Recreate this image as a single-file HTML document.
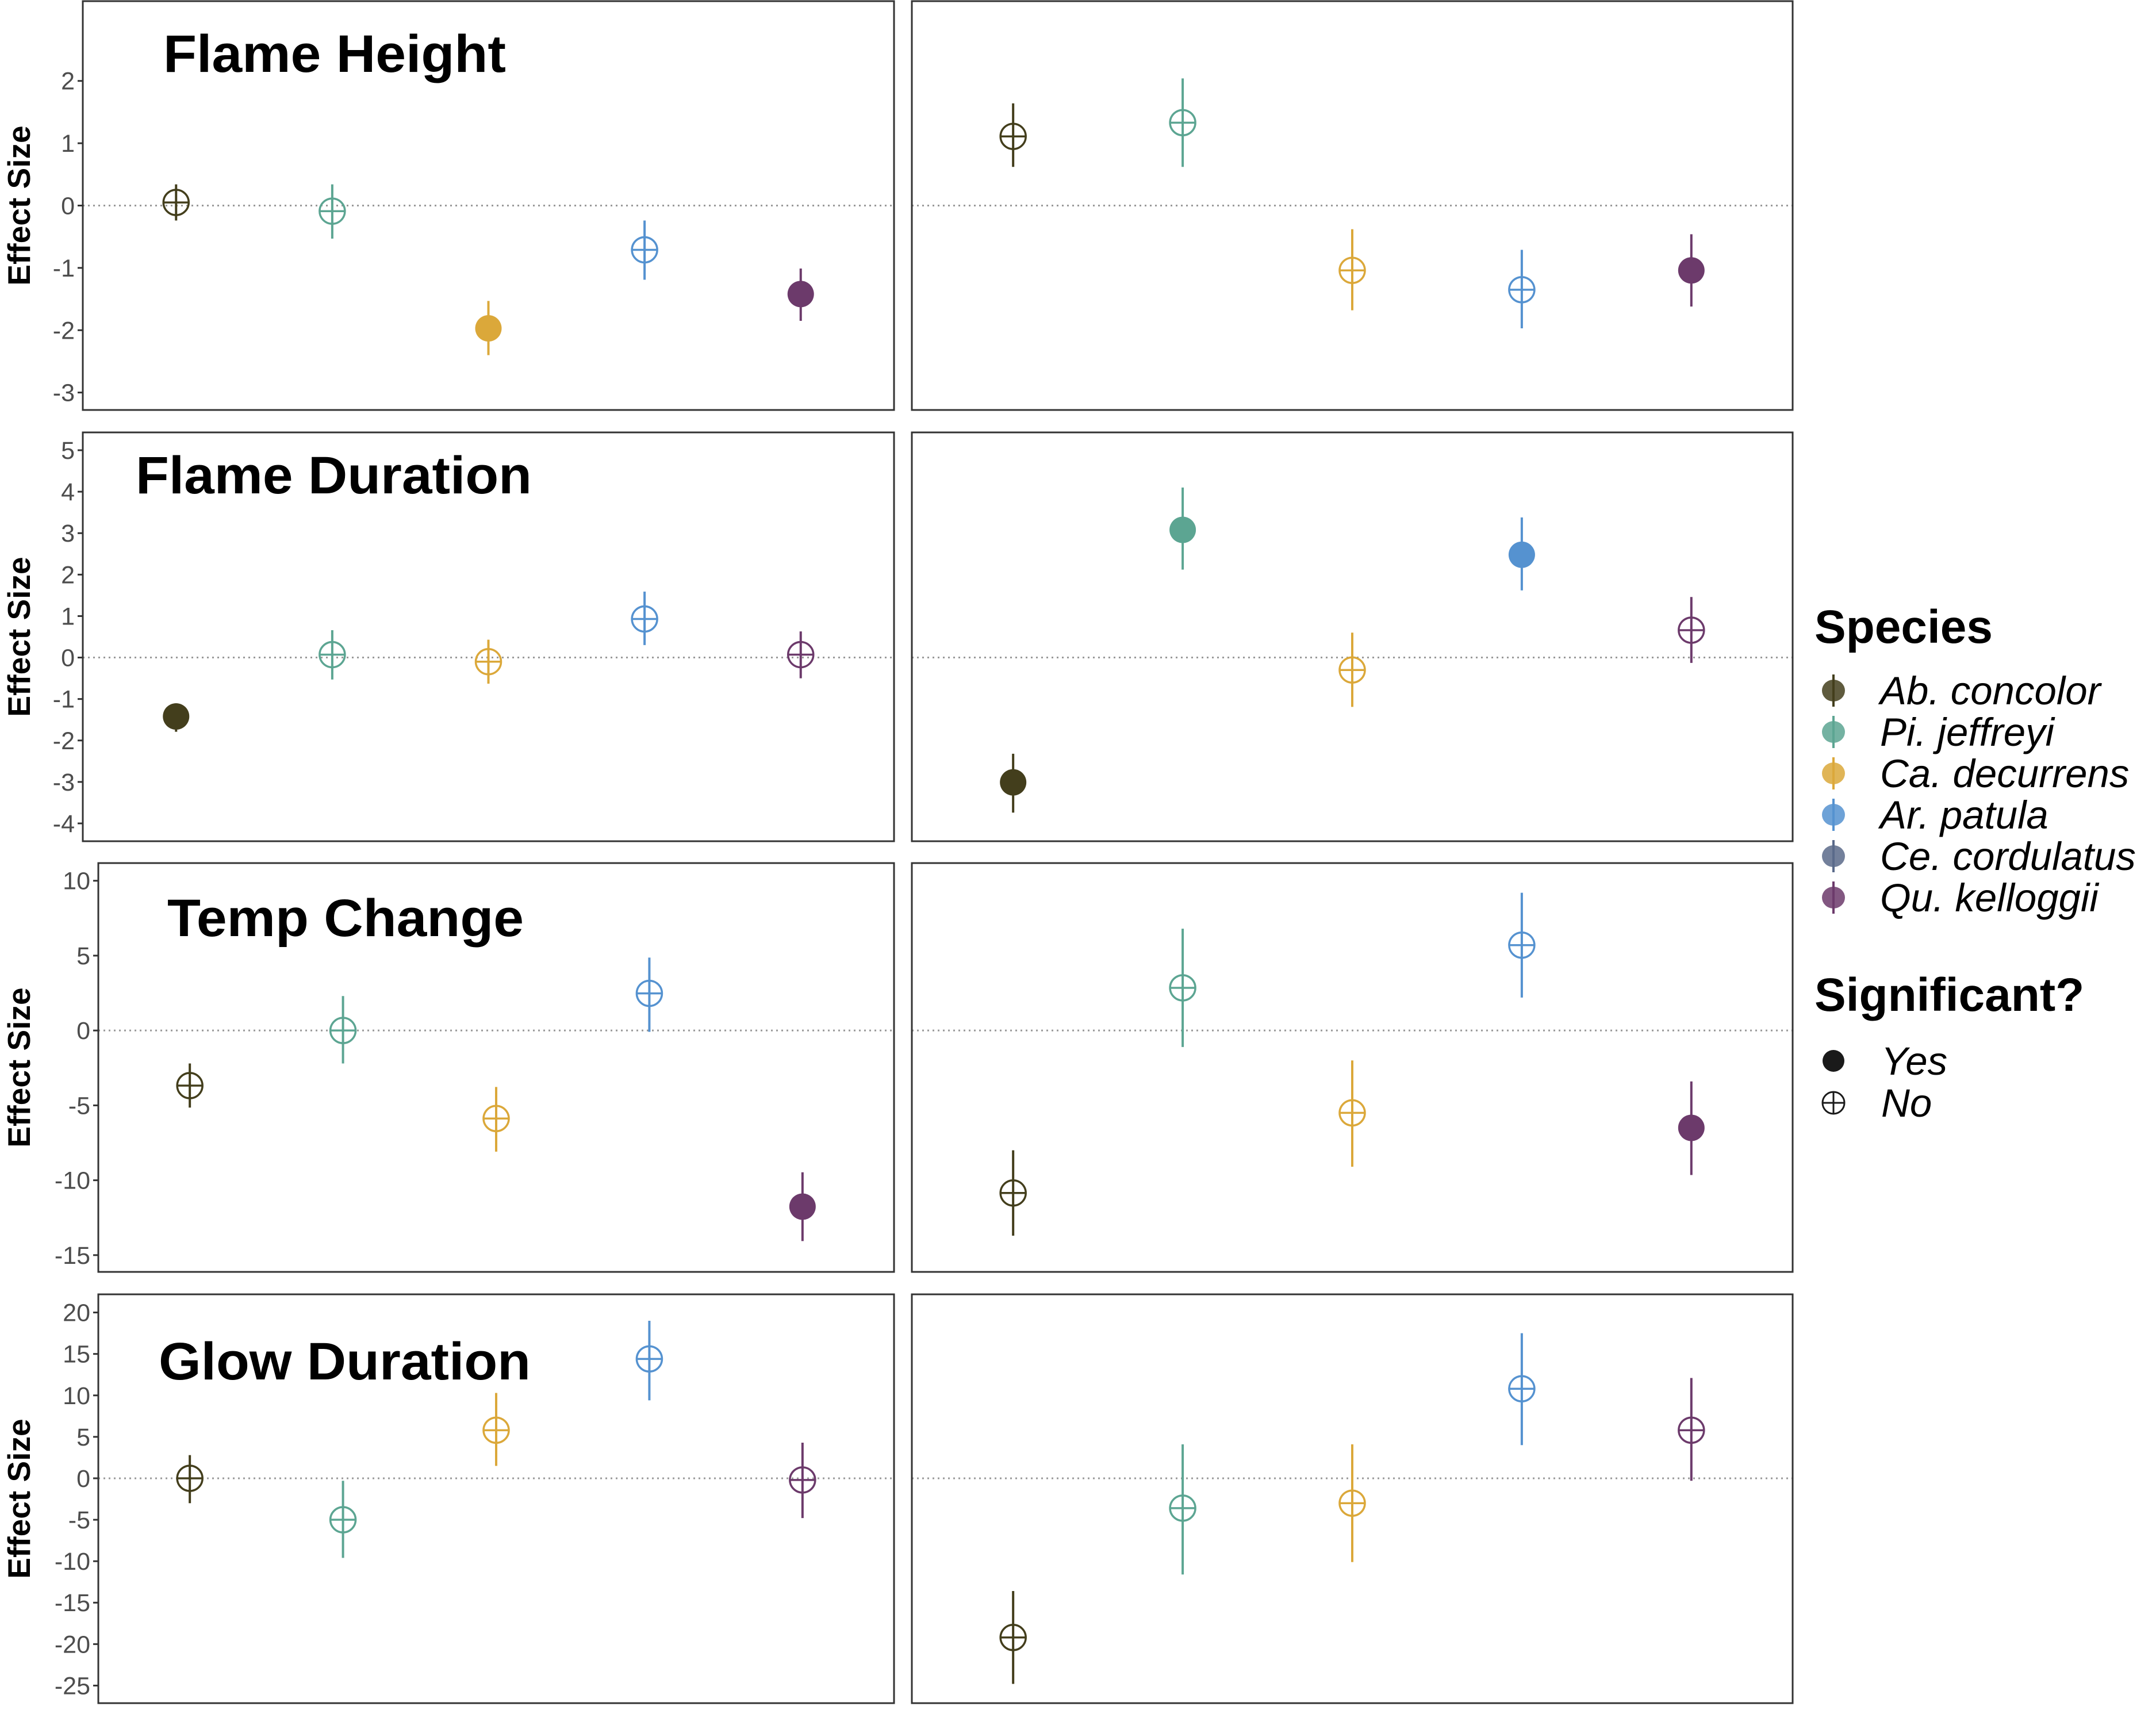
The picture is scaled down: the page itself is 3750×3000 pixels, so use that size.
<!DOCTYPE html>
<html><head><meta charset="utf-8"><style>
html,body{margin:0;padding:0;background:#fff;}
svg{display:block;}
text{font-family:"Liberation Sans",sans-serif;}
</style></head><body>
<svg id="chart" width="3750" height="3000" viewBox="0 0 3750 3000" xmlns="http://www.w3.org/2000/svg"></svg>
<script>
const species = ["Ab. concolor","Pi. jeffreyi","Ca. decurrens","Ar. patula","Ce. cordulatus","Qu. kelloggii"];
const plotted = ["Ab. concolor","Pi. jeffreyi","Ca. decurrens","Ar. patula","Qu. kelloggii"];
const colors = ["#433e1c","#5ca592","#dba83a","#5592d0","#5a6a8a","#6c3a6b"];
const metrics = ["Flame Height","Flame Duration","Temp Change","Glow Duration"];
const ticks1 = [2,1,0,-1,-2,-3];
const ticks2 = [5,4,3,2,1,0,-1,-2,-3,-4];
const ticks3 = [10,5,0,-5,-10,-15];
const ticks4 = [20,15,10,5,0,-5,-10,-15,-20,-25];
const domains = [[-3.28,3.28],[-4.43,5.43],[-16.12,11.18],[-27.12,22.19]];
// est, lo, hi, significant  (left panel, right panel)
const fhL_est=[0.05,-0.09,-1.97,-0.71,-1.42], fhL_lo=[-0.24,-0.53,-2.40,-1.19,-1.85], fhL_hi=[0.34,0.34,-1.53,-0.24,-1.01], fhL_sig=[0,0,1,0,1];
const fhR_est=[1.11,1.33,-1.04,-1.35,-1.04], fhR_lo=[0.62,0.62,-1.68,-1.97,-1.62], fhR_hi=[1.64,2.04,-0.38,-0.71,-0.46], fhR_sig=[0,0,0,0,1];
const fdL_est=[-1.42,0.07,-0.10,0.93,0.07], fdL_lo=[-1.79,-0.53,-0.63,0.30,-0.50], fdL_hi=[-1.19,0.66,0.43,1.59,0.63], fdL_sig=[1,0,0,0,0];
const fdR_est=[-3.01,3.08,-0.30,2.48,0.66], fdR_lo=[-3.74,2.12,-1.19,1.62,-0.13], fdR_hi=[-2.32,4.10,0.60,3.38,1.46], fdR_sig=[1,1,0,1,0];
const tcL_est=[-3.68,0.0,-5.88,2.48,-11.76], tcL_lo=[-5.15,-2.2,-8.09,-0.09,-14.06], tcL_hi=[-2.2,2.3,-3.77,4.87,-9.47], tcL_sig=[0,0,0,0,1];
const tcR_est=[-10.85,2.85,-5.5,5.7,-6.5], tcR_lo=[-13.7,-1.1,-9.1,2.2,-9.65], tcR_hi=[-8.0,6.8,-2.0,9.2,-3.4], tcR_sig=[0,0,0,0,1];
const gdL_est=[0.0,-5.0,5.8,14.4,-0.2], gdL_lo=[-3.0,-9.6,1.5,9.4,-4.8], gdL_hi=[2.8,-0.3,10.3,19.0,4.3], gdL_sig=[0,0,0,0,0];
const gdR_est=[-19.2,-3.6,-3.0,10.8,5.8], gdR_lo=[-24.8,-11.6,-10.1,4.0,-0.3], gdR_hi=[-13.6,4.1,4.1,17.5,12.1], gdR_sig=[0,0,0,0,0];

const NS="http://www.w3.org/2000/svg";
const svg=document.getElementById("chart");
function mk(tag,attrs,parent){const e=document.createElementNS(NS,tag);for(const k in attrs)e.setAttribute(k,attrs[k]);(parent||svg).appendChild(e);return e;}

const rowTops=[2,752,1501,2251], PH=711;
const leftX=[[144,1555],[144,1555],[171,1555],[171,1555]];
const rightX=[1586,3118];
const tickSets=[ticks1,ticks2,ticks3,ticks4];
const titleX=[284,236,291,276], titleBase=[125,858,1628,2399], titleW=[596,689,620,647];
const panels=[[[fhL_est,fhL_lo,fhL_hi,fhL_sig],[fhR_est,fhR_lo,fhR_hi,fhR_sig]],
 [[fdL_est,fdL_lo,fdL_hi,fdL_sig],[fdR_est,fdR_lo,fdR_hi,fdR_sig]],
 [[tcL_est,tcL_lo,tcL_hi,tcL_sig],[tcR_est,tcR_lo,tcR_hi,tcR_sig]],
 [[gdL_est,gdL_lo,gdL_hi,gdL_sig],[gdR_est,gdR_lo,gdR_hi,gdR_sig]]];

for(let r=0;r<4;r++){
  const top=rowTops[r], dom=domains[r];
  const y=v=>top+(dom[1]-v)/(dom[1]-dom[0])*PH;
  for(let p=0;p<2;p++){
    const [x0,x1]=p===0?leftX[r]:rightX;
    const xs=i=>x0+(x1-x0)*(0.115+i*0.1925);
    const g=mk("g",{});
    
    
    mk("line",{x1:x0,x2:x1,y1:y(0),y2:y(0),stroke:"#999",'stroke-width':3,'stroke-dasharray':"3 6"},g);
    const d=panels[r][p];
    for(let i=0;i<plotted.length;i++){
      const c=colors[species.indexOf(plotted[i])];
      const pt=mk("g",{},g);
      
      
      const cx=xs(i), cy=y(d[0][i]);
      mk("line",{x1:cx,x2:cx,y1:y(d[1][i]),y2:y(d[2][i]),stroke:c,'stroke-width':4},pt);
      if(d[3][i]){
        mk("circle",{cx:cx,cy:cy,r:23,fill:c},pt);
      } else {
        mk("circle",{cx:cx,cy:cy,r:22,fill:"none",stroke:c,'stroke-width':3.5},pt);
        mk("line",{x1:cx-22,x2:cx+22,y1:cy,y2:cy,stroke:c,'stroke-width':3.5},pt);
      }
    }
    mk("rect",{x:x0,y:top,width:x1-x0,height:PH,fill:"none",stroke:"#333",'stroke-width':3},g);
    if(p===0){
      for(const t of tickSets[r]){
        mk("line",{x1:x0-9,x2:x0,y1:y(t),y2:y(t),stroke:"#333",'stroke-width':3},g);
        const tx=mk("text",{x:x0-14,y:y(t)+15,'text-anchor':"end",'font-size':43,fill:"#4d4d4d"},g);
        tx.textContent=t;
        
        
      }
      const yt=mk("text",{x:0,y:0,transform:`translate(52,${top+PH/2}) rotate(-90)`,'text-anchor':"middle",'font-size':55,'font-weight':"bold",fill:"#000"},g);
      yt.textContent="Effect Size";
      
      
      const tt=mk("text",{x:titleX[r],y:titleBase[r],'font-size':92,'font-weight':"bold",fill:"#000",textLength:titleW[r],lengthAdjust:"spacingAndGlyphs"},g);
      tt.textContent=metrics[r];
      
      
    }
  }
}
// legend
const lg=mk("g",{});


const lt=mk("text",{x:3156,y:1118,'font-size':82,'font-weight':"bold"},lg);
lt.textContent="Species";


const legY=[1201,1273,1345,1417,1489,1561];
for(let i=0;i<species.length;i++){
  const e=mk("g",{},lg);
  
  
  mk("ellipse",{cx:3189,cy:legY[i],rx:20,ry:19,fill:colors[i],opacity:0.85},e);
  mk("line",{x1:3189,x2:3189,y1:legY[i]-28,y2:legY[i]+28,stroke:colors[i],'stroke-width':4},e);
  const t=mk("text",{x:3270,y:legY[i]+24,'font-size':69,'font-style':"italic"},e);
  t.textContent=species[i];
}
const st=mk("text",{x:3156,y:1758,'font-size':82,'font-weight':"bold"},lg);
st.textContent="Significant?";


const ye=mk("g",{},lg);


mk("ellipse",{cx:3189,cy:1845,rx:19,ry:19,fill:"#1a1a1a"},ye);
mk("text",{x:3272,y:1869,'font-size':69,'font-style':"italic"},ye).textContent="Yes";
const no=mk("g",{},lg);


mk("circle",{cx:3189,cy:1918,r:19,fill:"none",stroke:"#1a1a1a",'stroke-width':3},no);
mk("line",{x1:3170,x2:3208,y1:1918,y2:1918,stroke:"#1a1a1a",'stroke-width':3},no);
mk("line",{x1:3189,x2:3189,y1:1899,y2:1937,stroke:"#1a1a1a",'stroke-width':3},no);
mk("text",{x:3272,y:1942,'font-size':69,'font-style':"italic"},no).textContent="No";
</script>
</body></html>
